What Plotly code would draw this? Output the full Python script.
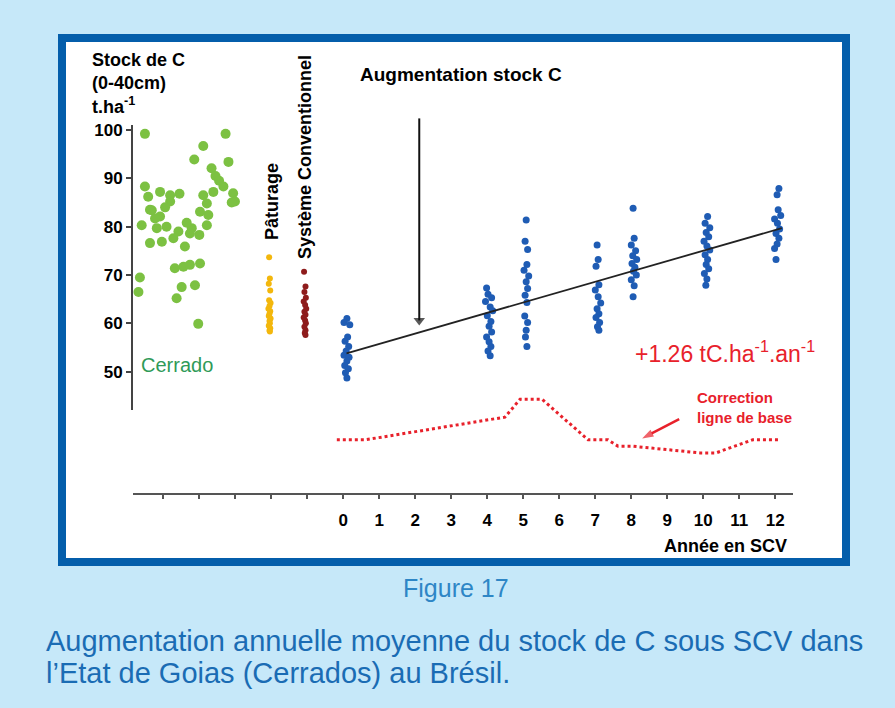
import plotly.graph_objects as go

# ---------------- data ----------------
cerrado_x = [-5.51, -3.27, -3.89, -4.14, -3.19, -3.66, -3.55, -3.45, -5.51, -5.09, -4.81, -5.42,
             -3.89, -3.61, -3.33, -3.06, -3.01, -5.37, -5.09, -5.60, -5.32, -5.23, -4.91, -5.18,
             -4.58, -4.21, -3.79, -3.98, -3.75, -5.37, -5.04, -4.72, -4.40, -4.26, -4.81, -3.79,
             -3.10, -4.68, -4.44, -4.26, -3.98, -5.65, -5.69, -4.49, -4.12, -4.63, -4.03, -4.95,
             -4.55, -4.35, -4.00]
cerrado_y = [99.2, 99.2, 96.7, 93.9, 93.4, 92.1, 90.5, 89.5, 88.3, 87.2, 86.5, 86.2,
             86.5, 87.2, 88.3, 86.9, 85.2, 83.5, 82.1, 80.3, 83.4, 81.7, 80.0, 79.7,
             79.0, 79.7, 80.3, 83.1, 82.4, 76.6, 76.9, 77.6, 75.9, 78.6, 85.2, 84.8,
             85.0, 71.4, 71.7, 72.1, 72.4, 69.5, 66.5, 67.5, 67.9, 65.2, 59.9, 84.0,
             86.8, 80.8, 78.3]

paturage_x = [-2.06, -2.04, -2.07, -2.03, -2.06, -2.02, -2.05, -2.08, -2.03, -2.05, -2.07,
              -2.02, -2.05, -2.04, -2.07, -2.03, -2.05, -2.04]
paturage_y = [73.7, 69.3, 68.2, 66.8, 64.8, 64.2, 63.6, 63.0, 62.5, 62.0, 61.5,
              61.0, 60.5, 60.0, 59.5, 59.0, 58.5, 58.3]

conv_x = [-1.09, -1.05, -1.08, -1.04, -1.10, -1.06, -1.03, -1.08, -1.05, -1.10, -1.06,
          -1.04, -1.08, -1.05, -1.07, -1.05]
conv_y = [70.7, 67.6, 66.5, 65.3, 64.5, 63.8, 63.0, 62.4, 61.8, 61.2, 60.6,
          60.0, 59.3, 58.6, 58.0, 57.6]

scv_x = [0.10, 0.02, 0.18, 0.12, 0.05, 0.15, 0.08, 0.02, 0.16, 0.10, 0.04, 0.14, 0.06, 0.10,
         3.98, 4.02, 4.12, 3.95, 4.08, 4.15, 4.00, 4.10, 4.05, 4.12, 3.98, 4.05, 4.10, 4.02, 4.08,
         5.08, 5.05, 5.12, 5.10, 5.02, 5.15, 5.08, 5.12, 5.05, 5.10, 5.04, 5.12, 5.08, 5.06, 5.10,
         7.05, 7.08, 7.02, 7.10, 7.00, 7.08, 7.15, 7.05, 7.10, 7.02, 7.12, 7.06, 7.10,
         8.05, 8.08, 8.00, 8.12, 8.04, 8.15, 8.02, 8.10, 8.06, 8.14, 8.00, 8.08, 8.05,
         10.12, 10.05, 10.18, 10.08, 10.15, 10.02, 10.10, 10.18, 10.05, 10.12, 10.08, 10.15,
         10.03, 10.10, 10.07,
         12.10, 12.05, 12.08, 12.15, 11.98, 12.06, 12.12, 12.02, 12.10, 12.05, 11.98, 12.02]
scv_y = [61.0, 60.2, 59.7, 57.2, 56.3, 55.2, 54.3, 53.4, 53.0, 52.2, 51.3, 50.6, 49.8, 48.7,
         67.3, 66.0, 65.3, 64.5, 63.4, 62.6, 61.6, 60.4, 59.4, 58.2, 57.2, 56.2, 55.2, 54.3, 53.3,
         81.4, 77.0, 75.3, 72.2, 71.0, 69.8, 68.6, 67.2, 65.8, 64.3, 61.5, 60.2, 58.6, 57.2, 55.2,
         76.2, 73.2, 71.8, 68.0, 66.9, 65.5, 64.2, 63.0, 62.0, 61.2, 60.2, 59.3, 58.6,
         83.8, 77.6, 76.2, 75.0, 74.0, 73.2, 72.4, 71.6, 70.8, 70.0, 69.0, 67.8, 65.5,
         82.1, 80.7, 79.8, 78.8, 77.9, 77.0, 76.0, 75.2, 74.2, 73.2, 72.2, 71.3,
         70.3, 69.2, 67.9,
         87.9, 86.6, 83.5, 82.3, 81.6, 80.7, 79.5, 78.6, 77.6, 76.4, 75.5, 73.2]

trend_x = [0.09, 12.18]
trend_y = [53.8, 79.7]

baseline_x = [-0.18, 0.60, 4.49, 4.91, 5.52, 6.80, 7.35, 7.63, 8.02, 9.91, 10.35, 11.37, 12.12]
baseline_y = [35.9, 35.9, 40.6, 44.3, 44.3, 35.9, 35.9, 34.6, 34.6, 33.2, 33.2, 35.9, 35.9]

# arrows (tail -> head)
arrow_up_x = [2.11, 2.11]
arrow_up_y = [102.4, 60.6]
arrow_red_x = [9.33, 8.30]
arrow_red_y = [40.2, 36.2]

x_tickvals = [0, 1, 2, 3, 4, 5, 6, 7, 8, 9, 10, 11, 12]
x_ticktext = ["0", "1", "2", "3", "4", "5", "6", "7", "8", "9", "10", "11", "12"]
x_minor_ticks = [-5, -4, -3, -2, -1]
y_tickvals = [50, 60, 70, 80, 90, 100]

# ---------------- layout helpers (pixel -> paper) ----------------
W, H = 895, 708
L, R, T, B = 133, 102, 100, 215
PW, PH = W - L - R, H - T - B


def px(x):
    return (x - L) / PW


def py(y):
    return (H - B - y) / PH


FONT = "Liberation Sans, Arial, Helvetica, sans-serif"
RED = "#e8212b"

fig = go.Figure()

fig.add_trace(go.Scatter(x=cerrado_x, y=cerrado_y, mode="markers",
                         marker=dict(size=10, color="#7cc142", line=dict(width=0)),
                         showlegend=False, hoverinfo="skip"))
fig.add_trace(go.Scatter(x=paturage_x, y=paturage_y, mode="markers",
                         marker=dict(size=6, color="#f3b70c", line=dict(width=0)),
                         showlegend=False, hoverinfo="skip"))
fig.add_trace(go.Scatter(x=conv_x, y=conv_y, mode="markers",
                         marker=dict(size=6, color="#8e1c1c", line=dict(width=0)),
                         showlegend=False, hoverinfo="skip"))
fig.add_trace(go.Scatter(x=baseline_x, y=baseline_y, mode="lines",
                         line=dict(color=RED, width=3, dash="dot"),
                         showlegend=False, hoverinfo="skip"))
fig.add_trace(go.Scatter(x=scv_x, y=scv_y, mode="markers",
                         marker=dict(size=7, color="#1f5cb4", line=dict(width=0)),
                         showlegend=False, hoverinfo="skip"))
fig.add_trace(go.Scatter(x=trend_x, y=trend_y, mode="lines",
                         line=dict(color="#222222", width=1.8),
                         showlegend=False, hoverinfo="skip"))
# arrows as line + oriented arrow-head marker
fig.add_trace(go.Scatter(x=arrow_up_x, y=arrow_up_y, mode="lines+markers",
                         line=dict(color="#111111", width=2),
                         marker=dict(symbol="triangle-down", size=[0, 10], color="#111111",
                                     line=dict(width=0)),
                         showlegend=False, hoverinfo="skip"))
fig.add_trace(go.Scatter(x=arrow_red_x, y=arrow_red_y, mode="lines+markers",
                         line=dict(color=RED, width=2.5),
                         marker=dict(symbol="arrow", angleref="previous", size=[0, 12],
                                     color=RED, line=dict(width=0)),
                         showlegend=False, hoverinfo="skip"))
# empty trace to attach the visible y axis
fig.add_trace(go.Scatter(x=[None], y=[None], yaxis="y2", mode="markers",
                         showlegend=False, hoverinfo="skip"))

ytop_main = 100 + (130 - T) / 4.834
ybot_main = 100 - (H - B - 130) / 4.834

fig.update_layout(
    width=W, height=H,
    margin=dict(l=L, r=R, t=T, b=B, pad=0),
    paper_bgcolor="#c6e8f9",
    plot_bgcolor="rgba(0,0,0,0)",
    font=dict(family=FONT, color="black"),
    showlegend=False,
    xaxis=dict(range=[-(343.3 - L) / 36.0, (793 - 343.3) / 36.0], domain=[0, 1],
               showline=True, linecolor="#555555", linewidth=2,
               ticks="outside", ticklen=4, tickwidth=1.5, tickcolor="#555555",
               tickvals=x_tickvals, ticktext=x_ticktext,
               minor=dict(tickvals=x_minor_ticks, ticks="outside", ticklen=4,
                          tickwidth=1.5, tickcolor="#555555", showgrid=False),
               tickfont=dict(family=FONT, size=17, color="black", weight="bold"),
               ticklabelstandoff=7,
               showgrid=False, zeroline=False, anchor="y"),
    yaxis=dict(range=[ybot_main, ytop_main], domain=[0, 1], visible=False,
               showgrid=False, zeroline=False),
    yaxis2=dict(range=[100 - (410 - 130) / 4.834, 100 + 5 / 4.834],
                domain=[py(410), py(125)], anchor="x",
                showline=True, linecolor="#444444", linewidth=2,
                ticks="outside", ticklen=5, tickwidth=1.5, tickcolor="#444444",
                tickvals=y_tickvals,
                tickfont=dict(family=FONT, size=17, color="black", weight="bold"),
                showgrid=False, zeroline=False),
)

# frame
fig.add_shape(type="rect", xref="paper", yref="paper",
              x0=px(62), x1=px(846), y0=py(562), y1=py(38),
              line=dict(color="#045eab", width=8), fillcolor="white", layer="below")

ann = []
ann.append(dict(xref="paper", yref="paper", x=px(90), y=py(48), xanchor="left", yanchor="top",
                align="left", showarrow=False,
                text="<b>Stock de C<br>(0-40cm)<br>t.ha<sup>-1</sup></b>",
                font=dict(family=FONT, size=18, color="black")))
ann.append(dict(xref="paper", yref="paper", x=px(358), y=py(75), xanchor="left", yanchor="middle",
                showarrow=False, text="<b>Augmentation stock C</b>",
                font=dict(family=FONT, size=19, color="black")))
ann.append(dict(xref="paper", yref="paper", x=px(272), y=py(202), xanchor="center", yanchor="middle",
                showarrow=False, textangle=-90, text="<b>Pâturage</b>",
                font=dict(family=FONT, size=18, color="black")))
ann.append(dict(xref="paper", yref="paper", x=px(305), y=py(157), xanchor="center", yanchor="middle",
                showarrow=False, textangle=-90, text="<b>Système Conventionnel</b>",
                font=dict(family=FONT, size=18, color="black")))
ann.append(dict(xref="paper", yref="paper", x=px(139), y=py(365), xanchor="left", yanchor="middle",
                showarrow=False, text="Cerrado",
                font=dict(family=FONT, size=20, color="#2f9a58")))
ann.append(dict(xref="paper", yref="paper", x=px(633), y=py(352), xanchor="left", yanchor="middle",
                showarrow=False, text="+1.26 tC.ha<sup>-1</sup>.an<sup>-1</sup>",
                font=dict(family=FONT, size=23, color=RED)))
ann.append(dict(xref="paper", yref="paper", x=px(695), y=py(407), xanchor="left", yanchor="middle",
                align="left", showarrow=False, text="<b>Correction<br>ligne de base</b>",
                font=dict(family=FONT, size=15, color=RED)))
ann.append(dict(xref="paper", yref="paper", x=px(789), y=py(546), xanchor="right", yanchor="middle",
                showarrow=False, text="<b>Année en SCV</b>",
                font=dict(family=FONT, size=18, color="black")))
# captions
ann.append(dict(xref="paper", yref="paper", x=px(456), y=py(588), xanchor="center", yanchor="middle",
                showarrow=False, text="Figure 17",
                font=dict(family=FONT, size=25, color="#2e86c6")))
ann.append(dict(xref="paper", yref="paper", x=px(44), y=py(641), xanchor="left", yanchor="middle",
                showarrow=False, text="Augmentation annuelle moyenne du stock de C sous SCV dans",
                font=dict(family=FONT, size=29, color="#1a6cb4")))
ann.append(dict(xref="paper", yref="paper", x=px(44), y=py(673), xanchor="left", yanchor="middle",
                showarrow=False, text="l’Etat de Goias (Cerrados) au Brésil.",
                font=dict(family=FONT, size=29, color="#1a6cb4")))
fig.update_layout(annotations=ann)

fig.write_html("out.html")
